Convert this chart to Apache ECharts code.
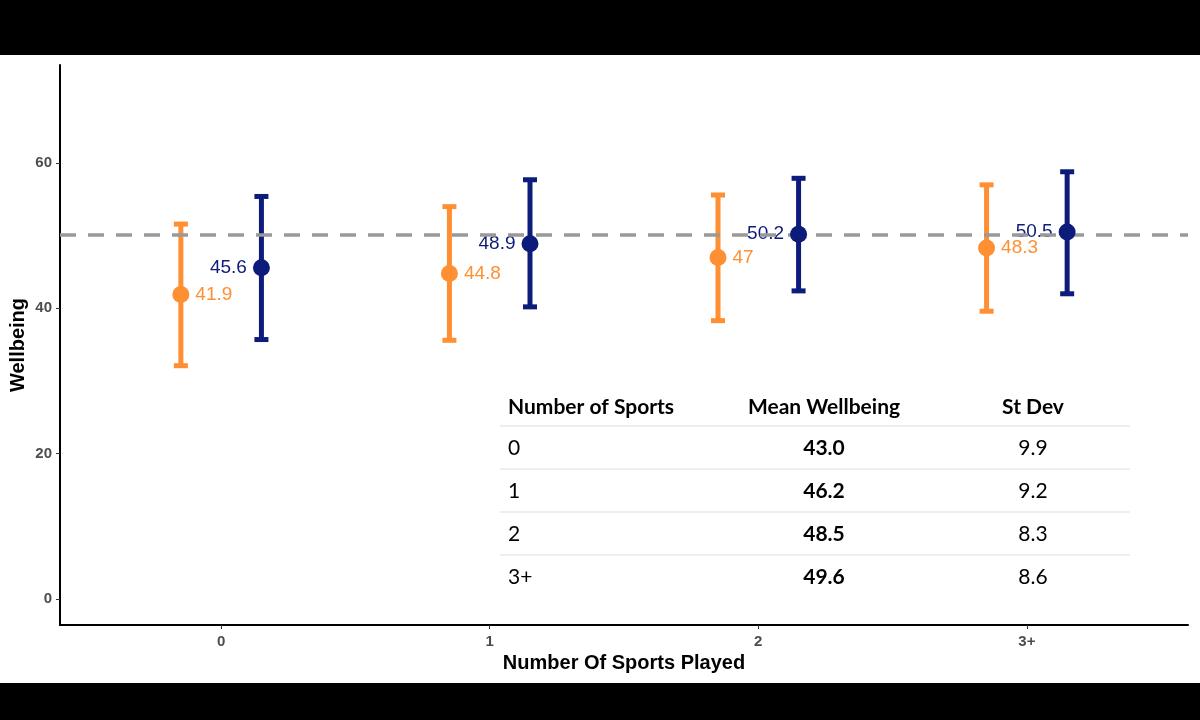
<!DOCTYPE html>
<html>
<head>
<meta charset="utf-8">
<script src="https://cdn.jsdelivr.net/npm/echarts@6/dist/echarts.min.js"></script>
<style>
html,body{margin:0;padding:0;background:#fff;}
#chart{width:1200px;height:720px;}
</style>
</head>
<body>
<div id="chart"></div>
<script>
// ---- data ----
var categories = ['0', '1', '2', '3+'];
var orangeMean = [41.9, 44.8, 47, 48.3];
var orangeLow  = [32.1, 35.6, 38.3, 39.6];
var orangeHigh = [51.6, 54.0, 55.6, 57.0];
var navyMean   = [45.6, 48.9, 50.2, 50.5];
var navyLow    = [35.7, 40.2, 42.4, 42.0];
var navyHigh   = [55.4, 57.7, 57.9, 58.8];
var refLine    = 50.1;
var yTicks     = [0, 20, 40, 60];

var tableHeader = ['Number of Sports', 'Mean Wellbeing', 'St Dev'];
var tableCats   = ['0', '1', '2', '3+'];
var tableMeans  = ['43.0', '46.2', '48.5', '49.6'];
var tableSD     = ['9.9', '9.2', '8.3', '8.6'];

// ---- styles ----
var ORANGE = '#FF8F33';
var NAVY = '#0D1B7B';
var DODGE = 0.15;

function pts(arr, off) { return arr.map(function (v, i) { return [i + off, v]; }); }
function bars(lo, hi, off) { return lo.map(function (v, i) { return [i + off, v, hi[i]]; }); }

function errRender(color) {
  return function (params, api) {
    var x = api.value(0), lo = api.value(1), hi = api.value(2);
    var a = api.coord([x, hi]), b = api.coord([x, lo]);
    var hw = 7;
    var st = { stroke: color, lineWidth: 5, lineCap: 'butt' };
    return {
      type: 'group',
      children: [
        { type: 'line', shape: { x1: a[0], y1: a[1], x2: b[0], y2: b[1] }, style: st },
        { type: 'line', shape: { x1: a[0] - hw, y1: a[1], x2: a[0] + hw, y2: a[1] }, style: st },
        { type: 'line', shape: { x1: b[0] - hw, y1: b[1], x2: b[0] + hw, y2: b[1] }, style: st }
      ]
    };
  };
}

// table graphics
var tableGraphics = [];
var colX = [508, 824, 1033];
var colAlign = ['left', 'center', 'center'];
var headY = 407, rowY0 = 448, rowStep = 43;
var tfont = 'Lato, "Open Sans", sans-serif';
tableHeader.forEach(function (h, c) {
  tableGraphics.push({ type: 'text', x: colX[c], y: headY,
    style: { text: h, fill: '#000', font: 'bold 21px ' + tfont, textAlign: colAlign[c], textVerticalAlign: 'middle' } });
});
for (var r = 0; r < tableCats.length; r++) {
  var yy = rowY0 + r * rowStep;
  tableGraphics.push({ type: 'line', shape: { x1: 500, y1: yy - 22, x2: 1130, y2: yy - 22 }, style: { stroke: '#dddddd', lineWidth: 1 } });
  tableGraphics.push({ type: 'text', x: colX[0], y: yy, style: { text: tableCats[r], fill: '#000', font: '21px ' + tfont, textAlign: 'left', textVerticalAlign: 'middle' } });
  tableGraphics.push({ type: 'text', x: colX[1], y: yy, style: { text: tableMeans[r], fill: '#000', font: 'bold 21px ' + tfont, textAlign: 'center', textVerticalAlign: 'middle' } });
  tableGraphics.push({ type: 'text', x: colX[2], y: yy, style: { text: tableSD[r], fill: '#000', font: '21px ' + tfont, textAlign: 'center', textVerticalAlign: 'middle' } });
}

var chart = echarts.init(document.getElementById('chart'));
var axisFont = '"Liberation Sans", Arial, sans-serif';
function lblSeries(name, arr, off, color, pos) {
  return { type: 'scatter', name: name, data: pts(arr, off), symbolSize: 17, silent: true,
    itemStyle: { color: 'rgba(0,0,0,0)', opacity: 1 }, z: 2,
    label: { show: true, position: pos, distance: 6, color: color, opacity: 1, fontSize: 19, fontFamily: axisFont,
      formatter: function (p) { return String(p.value[1]); } } };
}
chart.setOption({
  animation: false,
  backgroundColor: '#fff',
  grid: { left: 60, right: 12, top: 65, bottom: 95, containLabel: false, outerBoundsMode: 'none' },
  xAxis: {
    type: 'value', min: -0.6, max: 3.6,
    name: 'Number Of Sports Played', nameLocation: 'middle', nameGap: 28, nameMoveOverlap: false,
    nameTextStyle: { fontFamily: axisFont, fontWeight: 'bold', fontSize: 20, color: '#000' },
    splitLine: { show: false },
    axisLine: { show: true, onZero: false, lineStyle: { color: '#000', width: 2 } },
    axisTick: { show: true, customValues: [0, 1, 2, 3], length: 4, lineStyle: { color: '#333', width: 1 } },
    axisLabel: { customValues: [0, 1, 2, 3], formatter: function (v) { return categories[Math.round(v)]; },
      fontFamily: axisFont, fontWeight: 'bold', fontSize: 15, color: '#4D4D4D', margin: 9 }
  },
  yAxis: {
    type: 'value', min: -3.6, max: 73.5,
    name: 'Wellbeing', nameLocation: 'middle', nameGap: 32, nameRotate: 90, nameMoveOverlap: false,
    nameTextStyle: { fontFamily: axisFont, fontWeight: 'bold', fontSize: 20, color: '#000' },
    splitLine: { show: false },
    axisLine: { show: true, onZero: false, lineStyle: { color: '#000', width: 2 } },
    axisTick: { show: true, customValues: yTicks, length: 4, lineStyle: { color: '#333', width: 1 } },
    axisLabel: { customValues: yTicks, fontFamily: axisFont, fontWeight: 'bold', fontSize: 15, color: '#4D4D4D', margin: 8 }
  },
  series: [
    { type: 'custom', name: 'orangeErr', renderItem: errRender(ORANGE), data: bars(orangeLow, orangeHigh, -DODGE), z: 2 },
    { type: 'custom', name: 'navyErr', renderItem: errRender(NAVY), data: bars(navyLow, navyHigh, DODGE), z: 2 },
    lblSeries('orangeLbl', orangeMean, -DODGE, ORANGE, 'right'),
    lblSeries('navyLbl', navyMean, DODGE, NAVY, 'left'),
    { type: 'line', name: 'ref', data: [[-0.6, refLine], [3.6, refLine]], symbol: 'none', z: 3, silent: true,
      lineStyle: { color: '#999999', width: 3.5, type: [16, 12] } },
    { type: 'scatter', name: 'orange', data: pts(orangeMean, -DODGE), symbolSize: 17, itemStyle: { color: ORANGE, opacity: 1 }, z: 4 },
    { type: 'scatter', name: 'navy', data: pts(navyMean, DODGE), symbolSize: 17, itemStyle: { color: NAVY, opacity: 1 }, z: 4 }
  ],
  graphic: [
    { type: 'rect', shape: { x: 0, y: 0, width: 1200, height: 55 }, style: { fill: '#000' }, z: 100 },
    { type: 'rect', shape: { x: 0, y: 683, width: 1200, height: 37 }, style: { fill: '#000' }, z: 100 }
  ].concat(tableGraphics)
});
</script>
</body>
</html>
